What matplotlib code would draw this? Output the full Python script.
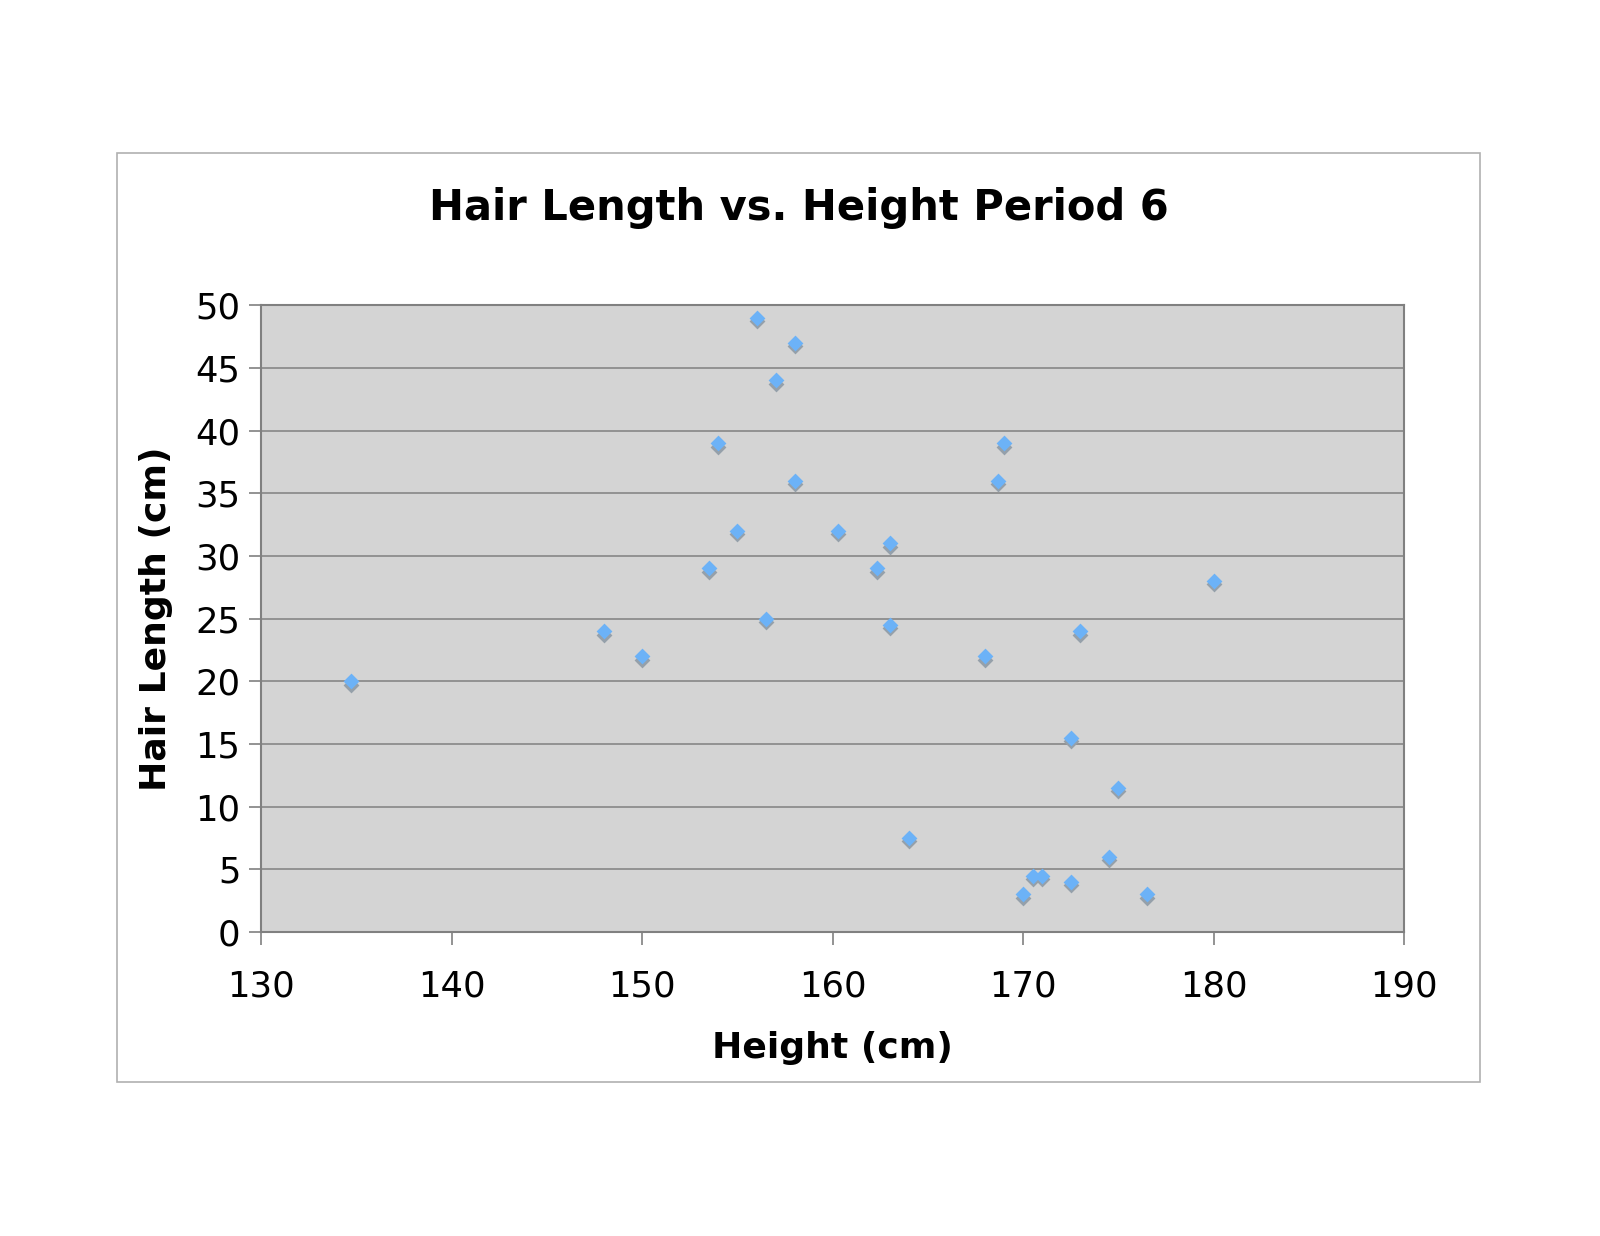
import matplotlib.pyplot as plt
import matplotlib.transforms as mtransforms
from matplotlib.patches import Rectangle

# heights (cm) and hair lengths (cm)
height = [134.7, 148, 150, 153.5, 154, 155, 156, 156.5, 157, 158, 158,
          160.3, 162.3, 163, 163, 164, 168, 168.7, 169, 170, 170.5, 171,
          172.5, 172.5, 173, 174.5, 175, 176.5, 180]
hair = [20, 24, 22, 29, 39, 32, 49, 25, 44, 47, 36,
        32, 29, 31, 24.5, 7.5, 22, 36, 39, 3, 4.5, 4.5,
        15.5, 4, 24, 6, 11.5, 3, 28]

xticks = [130, 140, 150, 160, 170, 180, 190]
yticks = [0, 5, 10, 15, 20, 25, 30, 35, 40, 45, 50]

plt.rcParams['font.family'] = ['DejaVu Sans']

fig = plt.figure(figsize=(16, 12.36), dpi=100)

# outer chart border
fig.patches.append(Rectangle((0.0733, 0.125), 0.852, 0.751, transform=fig.transFigure,
                             fill=False, edgecolor='#b0b0b0', linewidth=1.2))

ax = fig.add_axes([0.1633, 0.246, 0.7143, 0.507])
ax.set_facecolor('#d4d4d4')

shadow = ax.transData + mtransforms.ScaledTranslation(0, -2.5 / 72, fig.dpi_scale_trans)
ax.scatter(height, hair, marker='D', s=65, color='#95a0aa', linewidths=0,
           transform=shadow, zorder=3)
ax.scatter(height, hair, marker='D', s=65, color='#6cb2f7', linewidths=0, zorder=4)

ax.set_xlim(130, 190)
ax.set_ylim(0, 50)
ax.set_xticks(xticks)
ax.set_yticks(yticks)
ax.grid(axis='y', color='#808080', linewidth=1.1)
ax.set_axisbelow(True)
for s in ax.spines.values():
    s.set_color('#808080')
    s.set_linewidth(1.5)
ax.tick_params(axis='both', labelsize=25.5, color='#808080', width=1.2, length=9)
ax.tick_params(axis='x', pad=18)
ax.tick_params(axis='y', pad=6)

ax.set_xlabel('Height (cm)', fontsize=26, fontweight='bold', labelpad=20)
ax.set_ylabel('Hair Length (cm)', fontsize=26, fontweight='bold', labelpad=16)
fig.text(0.499, 0.832, 'Hair Length vs. Height Period 6', ha='center', va='center',
         fontsize=30, fontweight='bold')

fig.savefig('out.png', dpi=100)
